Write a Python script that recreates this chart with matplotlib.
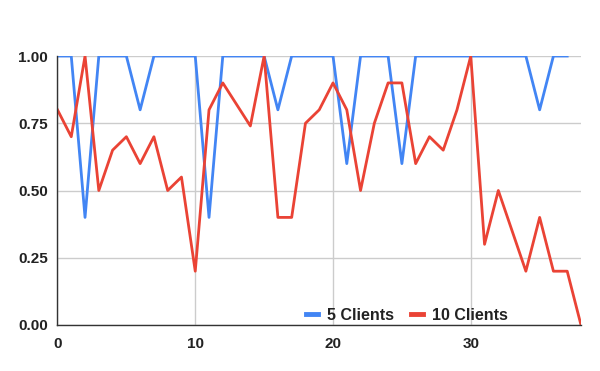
import numpy as np
import matplotlib.pyplot as plt

plt.rcParams['font.family'] = ['Liberation Sans', 'DejaVu Sans']

x5 = list(range(38))
clients5 = [1, 1, 0.4, 1, 1, 1, 0.8, 1, 1, 1,
            1, 0.4, 1, 1, 1, 1, 0.8, 1, 1, 1,
            1, 0.6, 1, 1, 1, 0.6, 1, 1, 1, 1,
            1, 1, 1, 1, 1, 0.8, 1, 1]

x10 = list(range(39))
clients10 = [0.8, 0.7, 1.0, 0.5, 0.65, 0.7, 0.6, 0.7, 0.5, 0.55,
             0.2, 0.8, 0.9, 0.82, 0.74, 1.0, 0.4, 0.4, 0.75, 0.8,
             0.9, 0.8, 0.5, 0.75, 0.9, 0.9, 0.6, 0.7, 0.65, 0.8,
             1.0, 0.3, 0.5, 0.35, 0.2, 0.4, 0.2, 0.2, 0.0]

fig = plt.figure(figsize=(6, 3.71), dpi=100)
ax = fig.add_axes([0.0958, 0.124, 0.8725, 0.725])

ax.plot(x5, clients5, color='#4285F4', lw=2, label='5 Clients')
ax.plot(x10, clients10, color='#EA4335', lw=2, label='10 Clients')

ax.set_xlim(0, 38)
ax.set_ylim(0, 1)
ax.set_xticks([0, 10, 20, 30])
ax.set_yticks([0, 0.25, 0.5, 0.75, 1.0])
ax.set_yticklabels(['0.00', '0.25', '0.50', '0.75', '1.00'])
ax.grid(True, color='#cccccc', lw=1)
ax.set_axisbelow(True)
ax.tick_params(length=0, labelsize=11)
ax.tick_params(axis='x', pad=9)
ax.tick_params(axis='y', pad=7)
for lab in ax.get_xticklabels() + ax.get_yticklabels():
    lab.set_fontweight('bold')
    lab.set_color('#222222')

for s in ['top', 'right']:
    ax.spines[s].set_visible(False)
for s in ['left', 'bottom']:
    ax.spines[s].set_color('#333333')
    ax.spines[s].set_linewidth(1)

leg = ax.legend(loc='lower right', bbox_to_anchor=(0.888, -0.045), ncol=2,
                frameon=False, handlelength=0.75, handletextpad=0.55,
                columnspacing=1.1, prop={'size': 11.5, 'weight': 'bold'})
for h in leg.get_lines():
    h.set_linewidth(3.5)
for t in leg.get_texts():
    t.set_color('#222222')

fig.savefig('out.png', dpi=100)
